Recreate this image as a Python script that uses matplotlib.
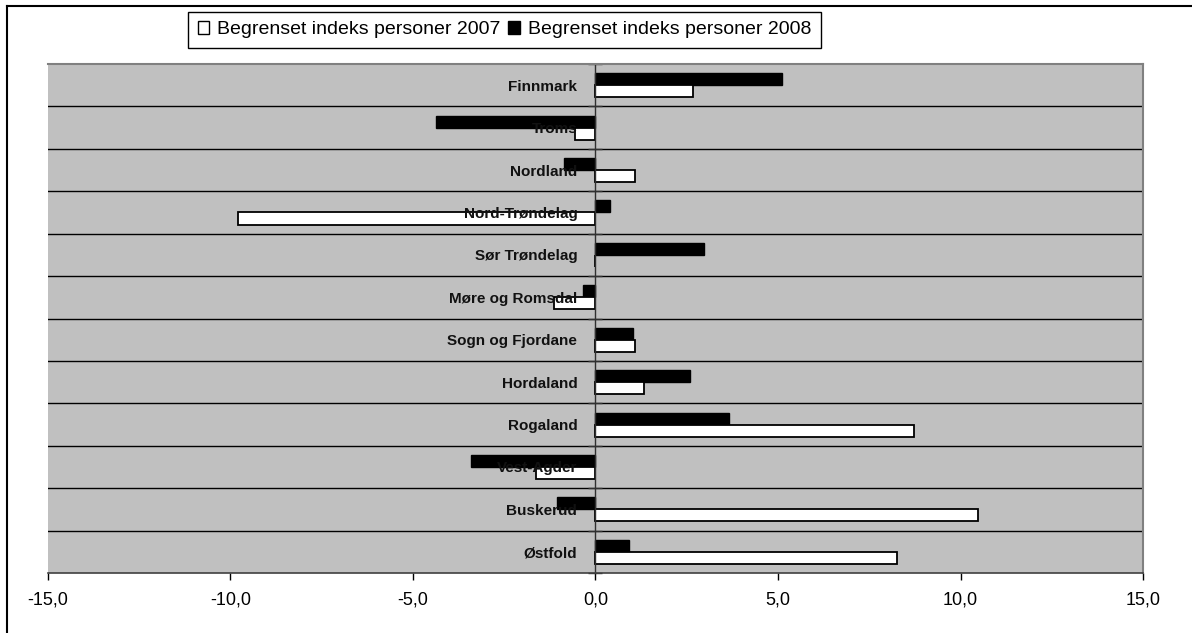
import matplotlib.pyplot as plt
import numpy as np
from matplotlib.lines import Line2D
from matplotlib.patches import Patch
from matplotlib.ticker import FixedLocator, FuncFormatter

plt.rcParams['font.family'] = ['Liberation Sans', 'DejaVu Sans']

# top to bottom as in the chart
fylker = ['Finnmark', 'Troms', 'Nordland', 'Nord-Trøndelag', 'Sør Trøndelag',
          'Møre og Romsdal', 'Sogn og Fjordane', 'Hordaland', 'Rogaland',
          'Vest-Agder', 'Buskerud', 'Østfold']
indeks_2007 = [2.67, -0.55, 1.09, -9.78, 0.0, -1.14, 1.09, 1.34, 8.73, -1.64, 10.47, 8.25]
indeks_2008 = [5.11, -4.36, -0.85, 0.41, 2.98, -0.35, 1.02, 2.58, 3.67, -3.42, -1.05, 0.91]
x_ticks = [-15, -10, -5, 0, 5, 10, 15]

fig = plt.figure(figsize=(11.92, 6.33), dpi=100)
ax = fig.add_axes([0.040, 0.0948, 0.919, 0.804])
ax.set_facecolor('#C0C0C0')

n = len(fylker)
y = np.arange(n)[::-1]
h = 0.283

ax.barh(y + h / 2, indeks_2008, height=h, color='black', edgecolor='black', linewidth=1)
ax.barh(y - h / 2, indeks_2007, height=h, color='white', edgecolor='black', linewidth=1.3)

ax.set_xlim(-15, 15)
ax.set_ylim(-0.5, n - 0.5)

# category boundaries
for b in np.arange(0.5, n - 0.5, 1):
    ax.axhline(b, color='black', linewidth=1, zorder=0.8)

for s in ['top', 'right']:
    ax.spines[s].set_color('#808080')
    ax.spines[s].set_linewidth(1.5)
ax.spines['bottom'].set_color('#404040')
ax.spines['bottom'].set_linewidth(1.2)
ax.spines['left'].set_position(('data', 0))
ax.spines['left'].set_color('#303030')
ax.spines['left'].set_linewidth(1)

ax.set_yticks(y)
ax.set_yticklabels(fylker, fontsize=11, fontweight='bold', color='#111111')
ax.tick_params(axis='y', which='major', length=0, pad=13)
ax.yaxis.set_minor_locator(FixedLocator(np.arange(-0.5, n, 1)))
ax.tick_params(axis='y', which='minor', direction='inout', length=10, width=1, color='#303030')

ax.set_xticks(x_ticks)
ax.xaxis.set_major_formatter(FuncFormatter(lambda v, p: f'{v:.1f}'.replace('.', ',')))
ax.tick_params(axis='x', direction='out', length=5, width=1, labelsize=13, pad=8)

# outer chart border (left and top)
fig.add_artist(Line2D([0.0059, 0.0059], [0, 0.9905], color='black', linewidth=1.5))
fig.add_artist(Line2D([0.0059, 1.0], [0.9905, 0.9905], color='black', linewidth=1.5))

handles = [Patch(facecolor='white', edgecolor='black', linewidth=1),
           Patch(facecolor='black', edgecolor='black', linewidth=1)]
fig.legend(handles, ['Begrenset indeks personer 2007', 'Begrenset indeks personer 2008'],
           loc='center', bbox_to_anchor=(0.423, 0.953), ncol=2, fontsize=14,
           frameon=True, fancybox=False, edgecolor='black', framealpha=1,
           handlelength=0.6, handleheight=0.6, handletextpad=0.4,
           columnspacing=0.4, borderpad=0.5, borderaxespad=0)
fig.legends[0].get_frame().set_linewidth(1)

fig.savefig('out.png', dpi=100)
